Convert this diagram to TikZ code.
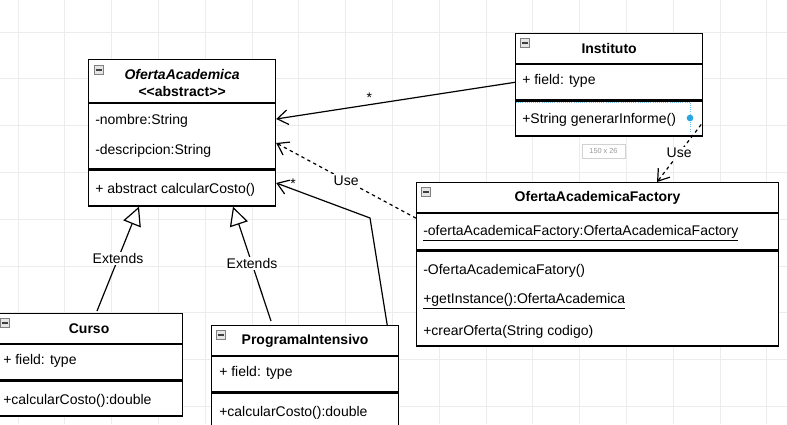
\documentclass[tikz,border=0pt]{standalone}
\usepackage{fontspec}
\setmainfont{Liberation Sans}
\usetikzlibrary{arrows.meta,calc}
\newcommand\umlfont{\fontsize{10.5}{12.6}\selectfont}
\definecolor{gridgray}{HTML}{ECECEC}
\definecolor{selblue}{HTML}{2AA7E2}
\tikzset{
	cls/.style 2 args={draw, fill=white, line width=0.9pt, anchor=north west, inner sep=0pt,
		minimum width=#1*0.75pt, minimum height=#2*0.75pt},
	ttl/.style={font=\umlfont\bfseries, align=center},
	row/.style={font=\umlfont, anchor=west, inner sep=0pt, text height=10.5pt, text depth=2pt},
	tog/.style={draw=gray, fill=gray!20, minimum size=7pt, inner sep=0pt,
		path picture={\draw[black!75, line width=0.8pt]
			([xshift=1.5pt]path picture bounding box.west) -- ([xshift=-1.5pt]path picture bounding box.east);}},
	assoc/.style={line width=0.9pt, -{Straight Barb[length=8pt, width=11pt]}},
	dep/.style={assoc, dash pattern=on 2.5pt off 2.5pt},
	gen/.style={line width=0.9pt, -{Triangle[fill=white, length=14pt, width=14pt]}},
	lbl/.style={font=\umlfont, fill=white, inner sep=1pt},
	mult/.style={font=\umlfont, inner sep=1pt},
	gridline/.style={gridgray, line width=0.6pt}
}
\begin{document}
\begin{tikzpicture}[x=0.75pt, y=-0.75pt]
	\useasboundingbox (0,0) rectangle (787,424);
	\clip (0,0) rectangle (787,424);
	\fill[white] (0,0) rectangle (787,424);
	
	% grid
	\foreach \gx in {0,...,16}
		\draw[gridline] ({18+46.8*\gx},0) -- ({18+46.8*\gx},424);
	\foreach \gy in {0,...,8}
		\draw[gridline] (0,{32+46.8*\gy}) -- (787,{32+46.8*\gy});
	
	% OfertaAcademica
	\node[cls={187}{43}] (oaHead) at (88,59) {};
	\node[cls={187}{65}] (oaAttr) at (oaHead.south west) {};
	\node[cls={187}{36}] (oaOps) at (oaAttr.south west) {};
	\node[ttl] (oaName) at ($(oaHead.center)+(0,2)$) {\textit{OfertaAcademica}\\\mbox{<}\mbox{<}abstract\mbox{>}\mbox{>}};
	\node[row] (oaNom) at (95,119) {-nombre:String};
	\node[row] (oaDesc) at (95,149) {-descripcion:String};
	\node[row] (oaCosto) at (95,188) {+ abstract calcularCosto()};
	
	% Instituto
	\node[cls={187}{30}] (instHead) at (515,33) {};
	\node[cls={187}{35}] (instAttr) at (instHead.south west) {};
	\node[cls={187}{35}] (instOps) at (instAttr.south west) {};
	\node[ttl] (instName) at (instHead.center) {Instituto};
	\node[row] (instField) at (522,79) {+ field: type};
	\node[row] (instInforme) at (522,118) {+String generarInforme()};
	
	% selection left by the editor
	\draw[selblue!70, densely dotted, line width=0.6pt] (516,102) -| (690,132);
	\node[circle, fill=selblue, inner sep=0pt, minimum size=5pt] (selDot) at (690,118) {};
	\node[draw=gray!35, fill=white, minimum width=32pt, minimum height=10.5pt, inner sep=0pt,
		text=gray!80, font=\fontsize{5.5}{6}\selectfont] (sizeTip) at (603.5,151) {150 x 26};
	
	% OfertaAcademicaFactory
	\node[cls={362}{30}] (facHead) at (416,182) {};
	\node[cls={362}{36}] (facAttr) at (facHead.south west) {};
	\node[cls={362}{95}] (facOps) at (facAttr.south west) {};
	\node[ttl] (facName) at (facHead.center) {OfertaAcademicaFactory};
	\node[row] (facInst) at (423,230) {\underline{-ofertaAcademicaFactory:OfertaAcademicaFactory}};
	\node[row] (facCtor) at (423,269) {-OfertaAcademicaFatory()};
	\node[row] (facGet) at (423,298) {\underline{+getInstance():OfertaAcademica}};
	\node[row] (facCrear) at (423,330) {+crearOferta(String codigo)};
	
	% Curso
	\node[cls={187}{30}] (cuHead) at (-5,313) {};
	\node[cls={187}{35}] (cuAttr) at (cuHead.south west) {};
	\node[cls={187}{35}] (cuOps) at (cuAttr.south west) {};
	\node[ttl] (cuName) at (cuHead.center) {Curso};
	\node[row] (cuField) at (3,359) {+ field: type};
	\node[row] (cuCosto) at (3,399) {+calcularCosto():double};
	
	% ProgramaIntensivo
	\node[cls={187}{30}] (piHead) at (211,325) {};
	\node[cls={187}{35}] (piAttr) at (piHead.south west) {};
	\node[cls={187}{40}] (piOps) at (piAttr.south west) {};
	\node[ttl] (piName) at (piHead.center) {ProgramaIntensivo};
	\node[row] (piField) at (219,371) {+ field: type};
	\node[row] (piCosto) at (219,411) {+calcularCosto():double};
	
	% toggles
	\node[tog] (oaTog) at ($(oaHead.north west)+(11,11)$) {};
	\node[tog] (instTog) at ($(instHead.north west)+(10,10)$) {};
	\node[tog] (facTog) at ($(facHead.north west)+(10,10)$) {};
	\node[tog] (cuTog) at ($(cuHead.north west)+(10,10)$) {};
	\node[tog] (piTog) at ($(piHead.north west)+(10,10)$) {};
	
	% relations
	\draw[assoc] (instAttr.west) -- node[mult, pos=0.61, anchor=south] (instStar) {*} (oaAttr.east |- oaNom);
	\draw[dep] ($(facAttr.north west)+(0,5)$) -- node[lbl, midway] (facUse) {Use} ($(oaAttr.east |- oaDesc)+(0,-6)$);
	\draw[dep] ($(instOps.east)+(-2,6)$) -- node[lbl, midway] (instUse) {Use} ($(facHead.north west)+(241,0)$);
	\draw[assoc] ($(piHead.north east)+(-12,0)$) -- (370,218)
		-- node[mult, pos=0.82, anchor=south, inner sep=0pt] (piStar) {*} ($(oaOps.east)+(0,-5)$);
	\draw[gen] ($(cuHead.north west)+(102,-2)$) -- node[lbl, midway] (cuExt) {Extends} ($(oaOps.south west)+(51,0)$);
	\draw[gen] ($(piHead.north west)+(60,-4)$) -- node[lbl, midway] (piExt) {Extends} ($(oaOps.south west)+(145,0)$);
	
\end{tikzpicture}
\end{document}
